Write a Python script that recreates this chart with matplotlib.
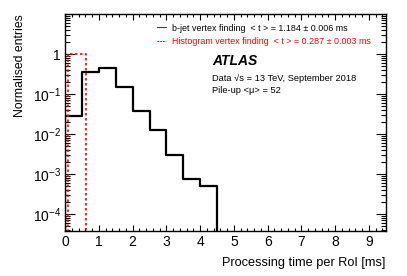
import matplotlib
matplotlib.use("Agg")
import matplotlib.pyplot as plt
import numpy as np
from matplotlib.lines import Line2D
from matplotlib.ticker import MultipleLocator, FixedLocator, LogLocator, NullFormatter

plt.rcParams['font.family'] = ['Liberation Sans', 'DejaVu Sans']
plt.rcParams['mathtext.fontset'] = 'custom'
plt.rcParams['mathtext.rm'] = 'Liberation Sans'
plt.rcParams['mathtext.it'] = 'Liberation Sans:italic'

# b-jet vertex finding, bins of 0.5 ms
bjet_edges = np.arange(0, 10.0, 0.5)
bjet_vals = [0.028, 0.36, 0.44, 0.147, 0.0376, 0.0126, 0.003, 0.00074, 0.0005,
             0, 0, 0, 0, 0, 0, 0, 0, 0, 0]

# histogram vertex finding
hist_edges = [0.0, 0.08, 0.62, 9.5]
hist_vals = [0, 1.0, 0]

ytick_vals = [1e-4, 1e-3, 1e-2, 1e-1, 1]
ytick_labels = [r'$10^{-4}$', r'$10^{-3}$', r'$10^{-2}$', r'$10^{-1}$', '1']

ymin, ymax = 3.8e-5, 10

bjet_label = 'b-jet vertex finding  < t > = 1.184 ± 0.006 ms'
hist_label = 'Histogram vertex finding  < t > = 0.287 ± 0.003 ms'


def step_xy(edges, vals):
    # zero bins go to the bottom of the log axis
    v = np.where(np.array(vals) > 0, vals, 1e-9)
    x = np.repeat(edges, 2)[1:-1]
    y = np.repeat(v, 2)
    x = np.concatenate([[edges[0]], x, [edges[-1]]])
    y = np.concatenate([[1e-9], y, [1e-9]])
    return x, y


fig = plt.figure(figsize=(4.07, 2.76), dpi=100)
ax = fig.add_axes([0.16, 0.164, 0.788, 0.785])

bx, by = step_xy(bjet_edges, bjet_vals)
ax.plot(bx, by, color='black', lw=1.6)
hx, hy = step_xy(hist_edges, hist_vals)
ax.plot(hx, hy, color='red', lw=1.2, ls=(0, (1.5, 1.5)))

ax.set_yscale('log')
ax.set_xlim(0, 9.5)
ax.set_ylim(ymin, ymax)

ax.xaxis.set_major_locator(MultipleLocator(1))
ax.xaxis.set_minor_locator(MultipleLocator(0.2))
ax.yaxis.set_major_locator(FixedLocator(ytick_vals))
ax.set_yticklabels(ytick_labels)
ax.yaxis.set_minor_locator(LogLocator(base=10, subs=np.arange(2, 10)))
ax.yaxis.set_minor_formatter(NullFormatter())

ax.tick_params(which='both', direction='in', top=True, right=True, labelsize=10, pad=3)
ax.tick_params(axis='x', which='major', length=4.5, width=0.8)
ax.tick_params(axis='x', which='minor', length=2.3, width=0.8)
ax.tick_params(axis='y', which='major', length=7.5, width=0.8)
ax.tick_params(axis='y', which='minor', length=3.8, width=0.8)
for s in ax.spines.values():
    s.set_linewidth(1.0)

ax.set_xlabel('Processing time per RoI [ms]', fontsize=9.2, loc='right', labelpad=6)
ax.set_ylabel('Normalised entries', fontsize=8.8, loc='top', labelpad=5)

handles = [Line2D([], [], color='#444444', lw=0.8),
           Line2D([], [], color='red', lw=0.8, ls=(0, (1.5, 1))),]
leg = ax.legend(handles, [bjet_label, hist_label], loc='upper left',
                bbox_to_anchor=(0.287, 0.956), frameon=False, borderpad=0, borderaxespad=0,
                fontsize=6.4, handlelength=1.0, handletextpad=0.7, labelspacing=0.5)
for t, c in zip(leg.get_texts(), ['black', 'red']):
    t.set_color(c)

ax.text(0.459, 0.783, 'ATLAS', transform=ax.transAxes, fontsize=10, fontweight='bold',
        fontstyle='italic', va='center')
ax.text(0.459, 0.705, 'Data √s = 13 TeV, September 2018', transform=ax.transAxes,
        fontsize=6.7, va='center')
ax.text(0.459, 0.649, 'Pile-up <μ> = 52', transform=ax.transAxes,
        fontsize=6.7, va='center')

fig.savefig('out.png', dpi=100)
